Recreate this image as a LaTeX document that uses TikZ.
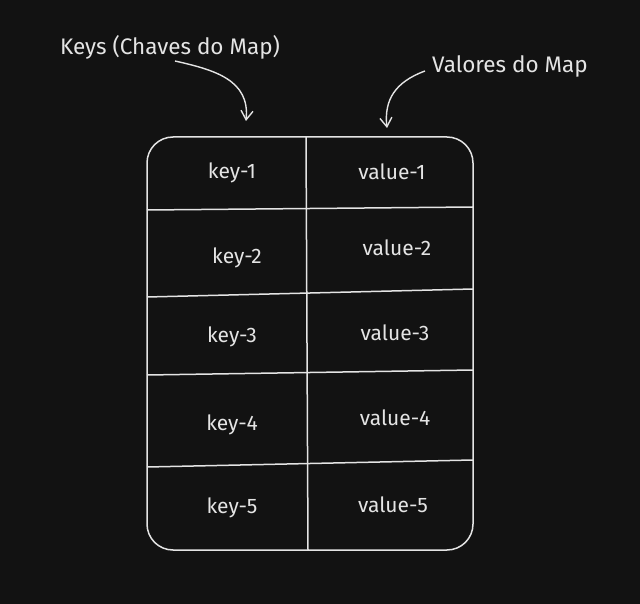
\documentclass[tikz,border=0pt]{standalone}
\usepackage{fontspec}
\setmainfont{Fira Sans}
\usetikzlibrary{arrows.meta}
\definecolor{bg}{HTML}{121212}
\definecolor{ink}{HTML}{E4E4E4}
\begin{document}
\begin{tikzpicture}[x=1pt,y=-1pt,
  cell/.style={text=ink,font=\fontsize{21}{24}\selectfont,inner sep=0pt},
  lbl/.style={text=ink,font=\fontsize{22.5}{26}\selectfont,inner sep=0pt},
  rule/.style={draw=ink,line width=1.5pt},
  pointer/.style={draw=ink,line width=1.4pt,-{Straight Barb[length=9pt,width=12pt]}}]
\fill[bg] (0,0) rectangle (640,604);
\useasboundingbox (0,0) rectangle (640,604);
% table frame
\draw[rule,rounded corners=26pt] (147,137) rectangle (473,550);
\coordinate (vt) at (306,137);
\coordinate (vb) at (308,550);
\draw[rule] (vt) -- (vb);
\coordinate (h1l) at (147,210); \coordinate (h1r) at (473,207);
\coordinate (h2l) at (147,297); \coordinate (h2r) at (473,289);
\coordinate (h3l) at (147,375); \coordinate (h3r) at (473,370);
\coordinate (h4l) at (147,467); \coordinate (h4r) at (473,460);
\draw[rule] (h1l) -- (h1r);
\draw[rule] (h2l) -- (h2r);
\draw[rule] (h3l) -- (h3r);
\draw[rule] (h4l) -- (h4r);
% cells
\node[cell] (k1) at (232,173) {key-1};
\node[cell] (v1) at (392,172) {value-1};
\node[cell] (k2) at (237,258) {key-2};
\node[cell] (v2) at (397,248) {value-2};
\node[cell] (k3) at (232,337) {key-3};
\node[cell] (v3) at (395,333) {value-3};
\node[cell] (k4) at (232,425) {key-4};
\node[cell] (v4) at (395,418) {value-4};
\node[cell] (k5) at (232,508) {key-5};
\node[cell] (v5) at (393,505) {value-5};
% labels
\node[lbl] (keys) at (170,47) {Keys (Chaves do Map)};
\node[lbl] (vals) at (510,66) {Valores do Map};
\coordinate (ks) at (175,61);
\coordinate (kt) at (246,121);
\coordinate (vs) at (425,71);
\coordinate (vtip) at (387,128);
\draw[pointer] (ks) .. controls (215,70) and (250,80) .. (kt);
\draw[pointer] (vs) .. controls (395,82) and (384,100) .. (vtip);
\end{tikzpicture}
\end{document}
